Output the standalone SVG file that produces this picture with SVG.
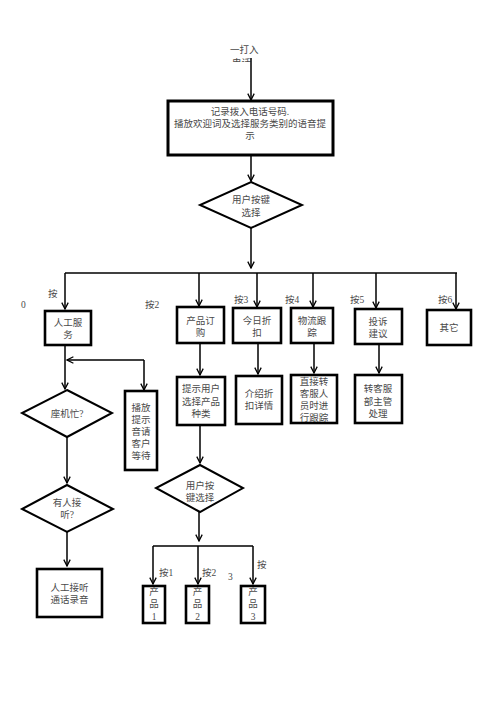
<svg xmlns="http://www.w3.org/2000/svg" width="496" height="702" viewBox="0 0 496 702">
<style>
.b{fill:#fff;stroke:#000;stroke-width:2.6}
.d{fill:#fff;stroke:#000;stroke-width:2}
.t{font-family:"Liberation Serif","Noto Sans CJK SC",serif;font-size:9.5px;fill:#4a4a4a;text-anchor:middle}
.l{font-family:"Liberation Serif","Noto Sans CJK SC",serif;font-size:9.5px;fill:#4a4a4a}
.c{fill:none;stroke:#000;stroke-width:1.5}
</style>
<defs>
<marker id="a" viewBox="0 0 10 10" refX="9" refY="5" markerWidth="8" markerHeight="8" markerUnits="userSpaceOnUse" orient="auto">
<path d="M1,1 L9,5 L1,9" fill="none" stroke="#000" stroke-width="1.6"/>
</marker>
<clipPath id="cp"><rect x="0" y="0" width="496" height="62"/></clipPath>
</defs>
<rect width="496" height="702" fill="#fff"/>
<g id="start">
<text class="l" x="230" y="53" clip-path="url(#cp)">一打入</text>
<text class="l" x="232" y="66" clip-path="url(#cp)">电话</text>
</g>
<g id="connectors">
<path class="c" d="M251,58 V100" marker-end="url(#a)"/>
<path class="c" d="M251,155 V181" marker-end="url(#a)"/>
<path class="c" d="M251,228 V268" marker-end="url(#a)"/>
<path class="c" d="M65,273 H457"/>
<path class="c" d="M65,273 V309" marker-end="url(#a)"/>
<path class="c" d="M199,273 V306" marker-end="url(#a)"/>
<path class="c" d="M257,273 V307" marker-end="url(#a)"/>
<path class="c" d="M313,273 V307" marker-end="url(#a)"/>
<path class="c" d="M376,273 V308" marker-end="url(#a)"/>
<path class="c" d="M456,273 V309" marker-end="url(#a)"/>
<path class="c" d="M65,345 V389" marker-end="url(#a)"/>
<path class="c" d="M144,360 H67" marker-end="url(#a)"/>
<path class="c" d="M144,360 V390" marker-end="url(#a)"/>
<path class="c" d="M200,343 V375" marker-end="url(#a)"/>
<path class="c" d="M258,343 V374" marker-end="url(#a)"/>
<path class="c" d="M314,343 V373" marker-end="url(#a)"/>
<path class="c" d="M379,344 V373" marker-end="url(#a)"/>
<path class="c" d="M67,437 V483" marker-end="url(#a)"/>
<path class="c" d="M200,425 V463" marker-end="url(#a)"/>
<path class="c" d="M67,532 V566" marker-end="url(#a)"/>
<path class="c" d="M199,512 V541" marker-end="url(#a)"/>
<path class="c" d="M153,546 H253"/>
<path class="c" d="M153,546 V584" marker-end="url(#a)"/>
<path class="c" d="M198,546 V584" marker-end="url(#a)"/>
<path class="c" d="M253,546 V584" marker-end="url(#a)"/>
</g>
<g id="labels">
<text class="l" x="48" y="297">按</text>
<text class="l" x="21" y="308">0</text>
<text class="l" x="145" y="308">按2</text>
<text class="l" x="234" y="303">按3</text>
<text class="l" x="285" y="303">按4</text>
<text class="l" x="350" y="303">按5</text>
<text class="l" x="438" y="303">按6</text>
<text class="l" x="159" y="576">按1</text>
<text class="l" x="202" y="576">按2</text>
<text class="l" x="228" y="580">3</text>
<text class="l" x="257" y="568">按</text>
</g>
<g id="n1">
<rect class="b" x="168" y="101" width="165" height="54" style="stroke-width:3"/>
<text class="t" x="250" y="115">记录拨入电话号码.</text>
<text class="t" x="250" y="127">播放欢迎词及选择服务类别的语音提</text>
<text class="t" x="250" y="139">示</text>
</g>
<g id="n2">
<polygon class="d" points="251,182 302,205 251,228 200,205"/>
<text class="t" x="251" y="203">用户按键</text>
<text class="t" x="251" y="216">选择</text>
</g>
<g id="n3">
<rect class="b" x="45" y="311" width="46" height="34"/>
<text class="t" x="68" y="326">人工服</text>
<text class="t" x="68" y="338">务</text>
</g>
<g id="n4">
<rect class="b" x="177" y="307" width="47" height="36"/>
<text class="t" x="200.5" y="324">产品订</text>
<text class="t" x="200.5" y="336">购</text>
</g>
<g id="n5">
<rect class="b" x="233" y="308" width="48" height="35"/>
<text class="t" x="257" y="324">今日折</text>
<text class="t" x="257" y="336">扣</text>
</g>
<g id="n6">
<rect class="b" x="291" y="308" width="42" height="35"/>
<text class="t" x="312" y="324">物流跟</text>
<text class="t" x="312" y="336">踪</text>
</g>
<g id="n7">
<rect class="b" x="355" y="309" width="47" height="35"/>
<text class="t" x="378" y="325">投诉</text>
<text class="t" x="378" y="337">建议</text>
</g>
<g id="n8">
<rect class="b" x="427" y="310" width="44" height="35"/>
<text class="t" x="449" y="331">其它</text>
</g>
<g id="n9">
<polygon class="d" points="67,390 112,413 67,437 22,413"/>
<text class="t" x="67" y="417">座机忙?</text>
</g>
<g id="n10">
<rect class="b" x="125" y="391" width="32" height="79"/>
<text class="t" x="141" y="411">播放</text>
<text class="t" x="141" y="423">提示</text>
<text class="t" x="141" y="435">音请</text>
<text class="t" x="141" y="447">客户</text>
<text class="t" x="141" y="459">等待</text>
</g>
<g id="n11">
<rect class="b" x="177" y="377" width="48" height="48"/>
<text class="t" x="201" y="392">提示用户</text>
<text class="t" x="201" y="405">选择产品</text>
<text class="t" x="201" y="417">种类</text>
</g>
<g id="n12">
<rect class="b" x="236" y="376" width="46" height="48"/>
<text class="t" x="259" y="397">介绍折</text>
<text class="t" x="259" y="409">扣详情</text>
</g>
<g id="n13">
<rect class="b" x="291" y="375" width="46" height="48"/>
<text class="t" x="314" y="385">直接转</text>
<text class="t" x="314" y="397">客服人</text>
<text class="t" x="314" y="409">员时进</text>
<text class="t" x="314" y="421">行跟踪</text>
</g>
<g id="n14">
<rect class="b" x="355" y="375" width="47" height="48"/>
<text class="t" x="378" y="392">转客服</text>
<text class="t" x="378" y="405">部主管</text>
<text class="t" x="378" y="417">处理</text>
</g>
<g id="n15">
<polygon class="d" points="67,485 113,509 67,532 22,509"/>
<text class="t" x="67" y="506">有人接</text>
<text class="t" x="67" y="518">听?</text>
</g>
<g id="n16">
<polygon class="d" points="200,465 243,488 200,512 156,488"/>
<text class="t" x="200" y="489">用户按</text>
<text class="t" x="200" y="501">键选择</text>
</g>
<g id="n17">
<rect class="b" x="37" y="569" width="65" height="48"/>
<text class="t" x="69.5" y="591">人工接听</text>
<text class="t" x="69.5" y="603">通话录音</text>
</g>
<g id="n18">
<rect class="b" x="143" y="586" width="22" height="37"/>
<text class="t" x="154" y="595">产</text>
<text class="t" x="154" y="607">品</text>
<text class="t" x="154" y="620">1</text>
</g>
<g id="n19">
<rect class="b" x="186" y="586" width="23" height="37"/>
<text class="t" x="197.5" y="595">产</text>
<text class="t" x="197.5" y="607">品</text>
<text class="t" x="197.5" y="620">2</text>
</g>
<g id="n20">
<rect class="b" x="241" y="586" width="24" height="37"/>
<text class="t" x="253" y="595">产</text>
<text class="t" x="253" y="607">品</text>
<text class="t" x="253" y="620">3</text>
</g>
</svg>
